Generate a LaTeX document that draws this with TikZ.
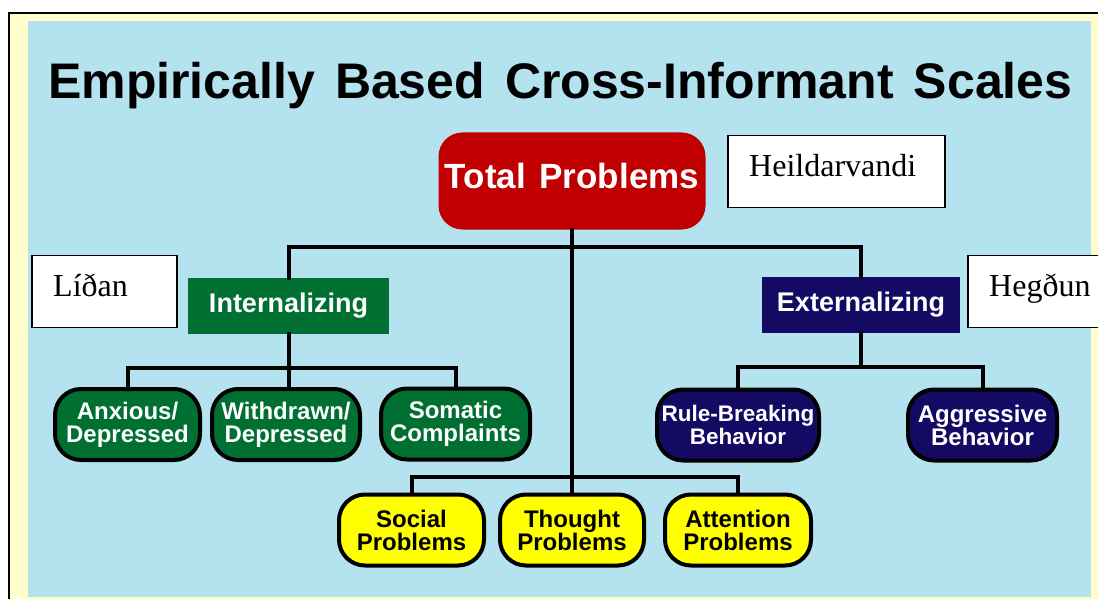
\documentclass[tikz,border=0pt]{standalone}
\usepackage{fontspec}
\setmainfont{Liberation Serif}
\newfontfamily\arialb{Liberation Sans}[UprightFont=* Bold]
\usetikzlibrary{positioning}
\definecolor{bgblue}{RGB}{180,226,239}
\definecolor{bgyellow}{RGB}{255,255,204}
\definecolor{totred}{RGB}{192,0,0}
\definecolor{intgreen}{RGB}{0,111,50}
\definecolor{extnavy}{RGB}{20,10,100}
\definecolor{nodeyellow}{RGB}{255,255,0}
\tikzset{
  conn/.style={line width=4pt, line join=miter, line cap=rect},
  groupbox/.style={rectangle, inner sep=0pt, text=white, font=\arialb\fontsize{27}{27}\selectfont},
  scalebox/.style={rounded corners=26pt, draw=black, line width=4pt, inner sep=0pt,
    align=center, minimum height=71pt, font=\arialb\fontsize{24}{23}\selectfont},
  greenbox/.style={scalebox, fill=intgreen, text=white},
  navybox/.style={scalebox, fill=extnavy, text=white},
  yellowbox/.style={scalebox, fill=nodeyellow, text=black},
  labelbox/.style={draw=black, line width=1.2pt, fill=white, minimum height=72pt, inner sep=0pt},
  labeltext/.style={anchor=base west, inner sep=0pt, font=\fontsize{32}{32}\selectfont}
}
\begin{document}
\begin{tikzpicture}[x=1pt, y=-1pt]
\useasboundingbox (0,0) rectangle (1098,599);
% frame and backgrounds
\fill[bgyellow] (9,13) rectangle (1110,610);
\draw[line width=2.5pt] (1110,13) -- (9,13) -- (9,610);
\fill[bgblue] (28,21) rectangle (1091,597);
% title
\node[anchor=base west, inner sep=0pt, font=\arialb\fontsize{50}{50}\selectfont] (title) at (48,99) {Empirically\hspace{20pt}Based\hspace{20pt}Cross-Informant\hspace{20pt}Scales};
% main nodes
\node[rectangle, rounded corners=24pt, fill=totred, text=white, minimum width=267pt, minimum height=97pt, inner sep=0pt, font=\arialb\fontsize{35}{35}\selectfont] (total) at (572,181) {\raisebox{10pt}{Total\hspace{4pt} Problems}};
\node[groupbox, fill=intgreen, minimum width=201pt, minimum height=56pt] (int) at (288.5,306) {Internalizing};
\node[groupbox, fill=extnavy, minimum width=198pt, minimum height=56pt] (ext) at (861,305) {Externalizing};
% scale nodes
\node[greenbox, minimum width=145pt] (anx) at (127.5,424.5) {Anxious/\\Depressed};
\node[greenbox, minimum width=148pt] (wd) at (286,424.5) {Withdrawn/\\Depressed};
\node[greenbox, minimum width=149pt] (som) at (455.5,424) {Somatic\\Complaints};
\node[navybox, minimum width=162pt, font=\arialb\fontsize{22.5}{23}\selectfont] (rb) at (738,425) {Rule-Breaking\\Behavior};
\node[navybox, minimum width=149pt] (agg) at (982.5,425) {Aggressive\\Behavior};
\node[yellowbox, minimum width=145pt] (soc) at (411.5,530) {Social\\Problems};
\node[yellowbox, minimum width=144pt] (tho) at (572,530) {Thought\\Problems};
\node[yellowbox, minimum width=146pt] (att) at (738,530) {Attention\\Problems};
% label boxes
\node[labelbox, minimum width=145pt] (lidbox) at (104.5,291.5) {};
\node[labelbox, minimum width=217pt] (heibox) at (836.5,171.5) {};
\node[labelbox, minimum width=160pt] (hegbox) at (1048,291.5) {};
\node[labeltext] (lid) at (53,296) {Líðan};
\node[labeltext] (hei) at (749,176) {Heildarvandi};
\node[labeltext] (heg) at (989,296) {Hegðun};
% connectors
\coordinate (tb) at (572,247);
\coordinate (ib) at (288.5,368);
\coordinate (eb) at (861,367);
\coordinate (bb) at (572,477);
\draw[conn] (int.north) |- (tb) -| (ext.north);
\draw[conn] (total.south) -- (tho.north);
\draw[conn] (int.south) -- (ib |- wd.north);
\draw[conn] (anx.north) |- (ib) -| (som.north);
\draw[conn] (ext.south) -- (eb);
\draw[conn] (rb.north) |- (eb) -| (agg.north);
\draw[conn] (soc.north) |- (bb) -| (att.north);
\end{tikzpicture}
\end{document}
